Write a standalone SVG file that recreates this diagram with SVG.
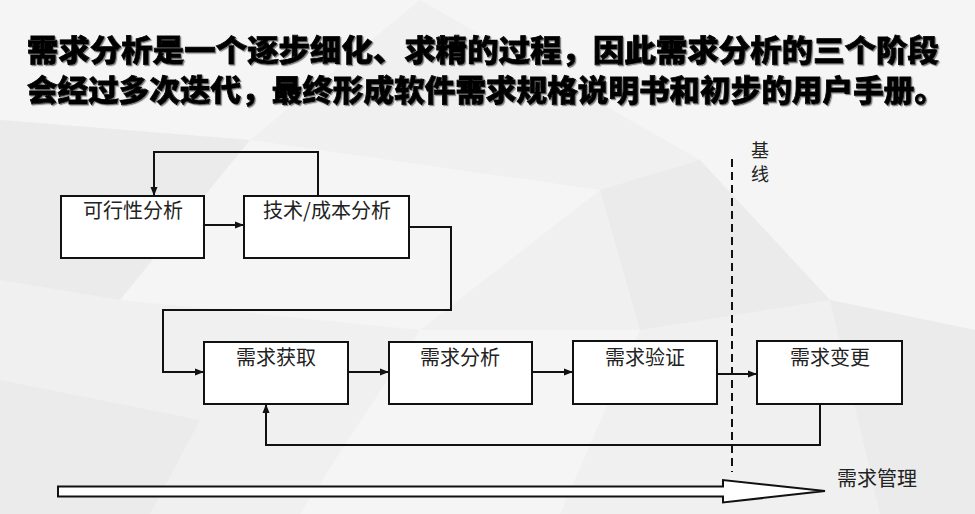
<svg xmlns="http://www.w3.org/2000/svg" width="975" height="514" viewBox="0 0 975 514">
<defs>
<style>
.box{fill:#fff;stroke:#111;stroke-width:2}
.lbl{font-family:"Microsoft YaHei","Noto Sans CJK SC","Noto Sans",sans-serif;font-size:20px;fill:#222;text-anchor:middle}
.ln{fill:none;stroke:#111;stroke-width:2}
.title{font-family:"Noto Sans CJK SC","Noto Sans",sans-serif;font-size:30px;font-weight:900;fill:#000;stroke:#000;stroke-width:0.8}
.bg1{fill:#f5f5f5}
.bg2{fill:#ebebeb}
</style>
<marker id="ah" markerUnits="userSpaceOnUse" markerWidth="10" markerHeight="8" refX="9" refY="4" orient="auto">
<path d="M0,0.5 L9,4 L0,7.5 z" fill="#111"/>
</marker>
<filter id="sh" x="-5%" y="-20%" width="110%" height="140%">
<feDropShadow dx="1.2" dy="1.2" stdDeviation="0.6" flood-color="#666" flood-opacity="0.8"/>
</filter>
</defs>
<rect width="975" height="514" fill="#f0f0f0"/>
<g id="background">
<polygon class="bg1" points="0,0 420,0 250,140 0,120"/>
<polygon class="bg1" points="420,0 975,0 975,90 700,160"/>
<polygon class="bg2" points="0,120 250,140 120,300 0,280"/>
<polygon class="bg1" points="250,140 600,190 420,330 120,300"/>
<polygon class="bg1" points="700,160 975,90 975,330 830,300"/>
<polygon class="bg2" points="600,190 700,160 830,300 640,330"/>
<polygon class="bg2" points="0,380 200,420 150,514 0,514"/>
<polygon class="bg1" points="420,330 640,330 560,514 300,514"/>
<polygon class="bg2" points="830,300 975,330 975,514 880,514"/>
</g>
<g id="title" filter="url(#sh)">
<text class="title" x="27" y="61" textLength="912" lengthAdjust="spacingAndGlyphs">需求分析是一个逐步细化、求精的过程，因此需求分析的三个阶段</text>
<text class="title" x="27" y="101" textLength="918" lengthAdjust="spacingAndGlyphs">会经过多次迭代，最终形成软件需求规格说明书和初步的用户手册。</text>
</g>
<g id="baseline">
<line x1="732" y1="159" x2="732" y2="472" stroke="#111" stroke-width="2" stroke-dasharray="8 5"/>
<text class="lbl" x="760" y="157" style="font-size:18px">基</text>
<text class="lbl" x="760" y="181" style="font-size:18px">线</text>
</g>
<g id="connectors">
<path class="ln" d="M204 225 H244" marker-end="url(#ah)"/>
<path class="ln" d="M318 196 V152 H154 V196" marker-end="url(#ah)"/>
<path class="ln" d="M409 227 H451 V310 H163 V372 H204" marker-end="url(#ah)"/>
<path class="ln" d="M348 372 H389" marker-end="url(#ah)"/>
<path class="ln" d="M532 372 H573" marker-end="url(#ah)"/>
<path class="ln" d="M717 374 H757" marker-end="url(#ah)"/>
<path class="ln" d="M820 404 V445 H266 V404" marker-end="url(#ah)"/>
</g>
<g id="n1"><rect class="box" x="61" y="196" width="143" height="62"/><text class="lbl" x="133" y="218">可行性分析</text></g>
<g id="n2"><rect class="box" x="244" y="196" width="165" height="62"/><text class="lbl" x="327" y="218">技术/成本分析</text></g>
<g id="n3"><rect class="box" x="204" y="342" width="144" height="62"/><text class="lbl" x="276" y="365">需求获取</text></g>
<g id="n4"><rect class="box" x="389" y="342" width="143" height="62"/><text class="lbl" x="460" y="365">需求分析</text></g>
<g id="n5"><rect class="box" x="573" y="341" width="144" height="63"/><text class="lbl" x="645" y="365">需求验证</text></g>
<g id="n6"><rect class="box" x="757" y="341" width="145" height="63"/><text class="lbl" x="830" y="365">需求变更</text></g>
<g id="mgmt">
<polygon points="58,486.5 723,486.5 723,480 825,491 723,502.5 723,496.5 58,496.5" fill="#fff" stroke="#111" stroke-width="2"/>
<text class="lbl" x="877" y="486">需求管理</text>
</g>
</svg>
